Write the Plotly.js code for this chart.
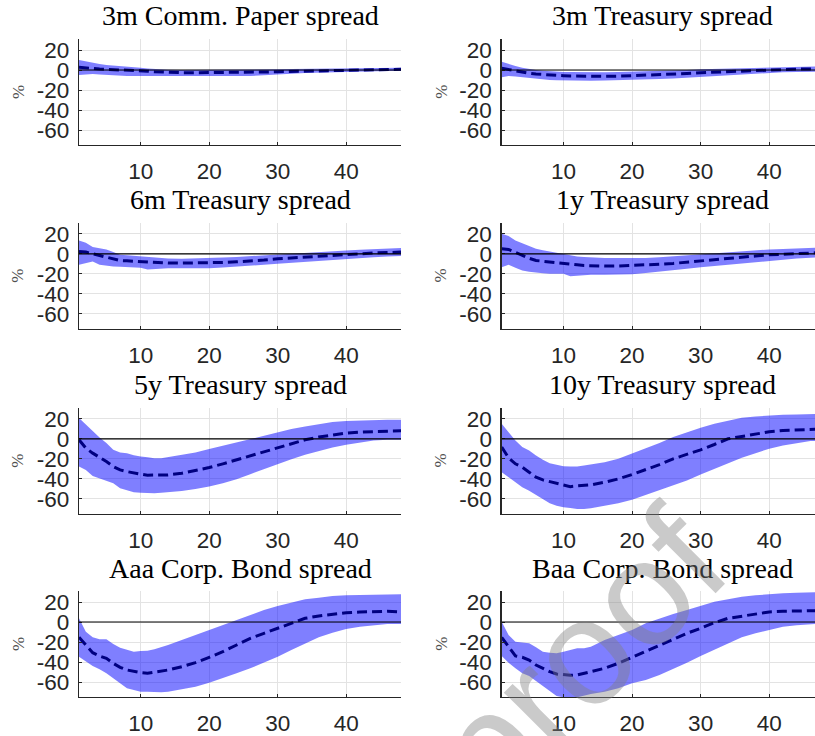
<!DOCTYPE html>
<html>
<head>
<meta charset="utf-8">
<script src="https://cdn.plot.ly/plotly-3.0.1.min.js"></script>
<style>html,body{margin:0;padding:0;background:#fff;}#chart{width:815px;height:736px;}</style>
</head>
<body>
<div id="chart"></div>
<script>
// ---- data ----
const horizon = [1,2,3,4,5,6,7,8,9,10,11,12,13,14,16,18,20,22,24,26,28,30,32,34,36,38,40,42,44,46,48];
const titles = ["3m Comm. Paper spread","3m Treasury spread","6m Treasury spread","1y Treasury spread",
                "5y Treasury spread","10y Treasury spread","Aaa Corp. Bond spread","Baa Corp. Bond spread"];
const yTickVals = [-60,-40,-20,0,20];
const yTickText = ["-60","-40","-20","0","20"];
const xTickVals = [10,20,30,40];
const xTickText = ["10","20","30","40"];

const medCP = [2.7,2,1.5,1,0.7,0.5,0.3,0,-0.3,-0.7,-1.2,-1.7,-2,-2.3,-2.7,-2.7,-2.7,-2.7,-2.5,-2.3,-2,-1.7,-1.4,-1.1,-0.8,-0.5,-0.3,0,0.3,0.5,0.7];
const upCP  = [10,8.5,7,6,5,4.5,4.2,4,3,2.3,1.6,1,0.6,0.3,0,0,0,0,0.2,0.4,0.5,0.7,0.9,1.1,1.3,1.5,1.7,1.9,2.1,2.2,2.3];
const loCP  = [-5,-4.5,-4,-4.5,-5,-5.5,-5.8,-6,-6,-6,-6.2,-6.4,-6.5,-6.6,-6.7,-6.7,-6.7,-6.5,-6.3,-6,-5.3,-4.3,-3.7,-3.1,-2.7,-2.2,-1.7,-1.5,-1.3,-1.1,-1];

const med3m = [1.7,0.3,-1,-2.2,-3.3,-4,-4.6,-5,-5.4,-5.7,-6,-6.2,-6.3,-6.3,-6.3,-6.2,-5.7,-5.3,-5,-4.4,-3.5,-2.7,-2.2,-1.6,-1,-0.4,0.3,0.6,0.9,1,1];
const up3m  = [8.3,6,4,2.3,1,0,-0.7,-1.3,-1.7,-2,-2.1,-2.2,-2.3,-2.3,-2.2,-2,-1.7,-1.3,-0.9,-0.5,0.1,0.7,1.1,1.5,1.9,2.3,2.7,3.1,3.5,3.7,3.7];
const lo3m  = [-7.3,-6,-6.5,-7.3,-8.2,-9,-9.5,-10,-10.3,-10.5,-10.7,-10.7,-10.7,-10.7,-10.6,-10.4,-10,-9.6,-9.1,-8.4,-7.6,-6.7,-5.9,-5.1,-4.4,-3.5,-2.7,-2.3,-2,-1.7,-1.5];

const med6m = [2.3,1.7,0,-1.7,-3.5,-5.2,-6.7,-7,-7.4,-7.7,-8.2,-8.6,-9,-9.2,-9.3,-9.3,-9,-8.6,-8,-7.3,-6.2,-5,-4.1,-3.2,-2.3,-1.3,-0.3,0.3,0.8,1.2,1.7];
const up6m  = [13.3,11,6.7,5.5,4.3,1.7,-1,-1.5,-2,-2.3,-3,-3.6,-4.3,-4.6,-5,-4.8,-4.3,-3.8,-3.1,-2.3,-1.2,0,0.7,1.4,2,2.7,3.3,4,4.6,5.2,5.7];
const lo6m  = [-11,-9,-7.7,-11,-12,-12.7,-13,-13.3,-13.7,-14,-15.7,-15,-14.6,-14.3,-14.5,-14.7,-14.3,-13.7,-13,-12,-11,-10,-9,-8.2,-7.4,-6.3,-5,-4.2,-3.5,-2.8,-2.3];

const med1y = [5,4.3,1.5,-1.7,-4.5,-6.7,-7.3,-8,-8.6,-9.3,-10.2,-11,-11.7,-12,-12.3,-12.1,-11.7,-11,-10.4,-9.6,-8.3,-6.7,-5.5,-4.3,-3.3,-2.2,-1,-0.3,0.4,1,1.3];
const up1y  = [20,17.7,13.3,10.5,8.3,5,3.6,2.3,1.2,0,-1.3,-2.7,-3.3,-3.8,-4.3,-4.3,-4.3,-4.2,-3.5,-2.5,-1.2,0,1,2,2.8,3.6,4.3,4.8,5.3,5.8,6.3];
const lo1y  = [-13.3,-11,-14,-16.7,-18,-19,-19.5,-20,-20,-20,-22.3,-21.8,-21.3,-21,-21,-21,-20.5,-19.2,-18,-16.7,-15,-13.3,-12,-10.8,-9.7,-8.2,-6.7,-5.7,-4.8,-4,-3.3];

const med5y = [-1,-9.3,-14.3,-18.3,-22.7,-27.7,-31,-32.7,-34.3,-35.3,-36.3,-36.3,-36.3,-36,-34.3,-31.7,-28.7,-25,-21,-16.7,-12.7,-8.3,-5,-1,1.7,4,5.7,6.7,7.3,8,8];
const up5y  = [20.7,14,7.3,1.3,-4.3,-11,-13.7,-14.3,-16.3,-17.7,-18.3,-19.3,-19.3,-18.3,-16,-13.7,-10.3,-7,-3.3,-0.3,3,6.3,9.7,12.3,14.7,16.7,17.7,18.3,19,19,19];
const lo5y  = [-27.7,-31,-37,-39.3,-42,-44.3,-49.3,-51.7,-53.3,-53.7,-54.3,-54.3,-53.7,-53.3,-52,-50,-47.7,-44.3,-40.3,-35.3,-30.3,-25,-20.3,-16,-12,-8.7,-6,-3.7,-1.7,-1,-1];

const med10y = [-8.3,-19,-25,-28.3,-33.3,-38.3,-41,-42.7,-44.3,-46,-47.7,-47,-46.3,-46,-43.3,-40,-35.7,-31,-25.7,-20,-15.7,-11,-5.7,0,2.3,5,7,8.3,9,9.7,9.7];
const up10y  = [15,6.7,-1.7,-8.3,-11.7,-16.7,-21,-24.3,-26,-27.3,-27.7,-27.7,-26.7,-25.7,-23.3,-20,-15,-10,-4.3,1.7,6.7,11,15,18.3,21,22.3,23.3,24,24.3,25,25];
const lo10y  = [-33.3,-38.3,-43.3,-48.3,-51.7,-55.7,-60,-64.3,-66.7,-68.3,-69,-70,-70,-69.3,-66.7,-64.3,-60.7,-56,-51.7,-46.7,-41.7,-35.7,-30,-24.3,-19,-14.3,-10,-6.7,-4.3,-2.3,-1.7];

const medAaa = [-15.3,-23,-30.7,-34,-36.3,-41.3,-45.3,-48,-49.7,-50.7,-51.3,-50.3,-49.7,-48,-44.7,-40.7,-35.3,-29.7,-23,-16.3,-11.3,-6.3,-0.7,3.7,6,8,9.3,10,10.7,10.7,10];
const upAaa  = [3.7,-9.7,-15.3,-17.3,-17.3,-22,-25.7,-28,-29.7,-29,-28.7,-27.3,-25.3,-23,-18,-13,-8,-3,2.7,7.7,12,16,19.3,22.7,24.3,26,26.7,27,27.7,28,27.7];
const loAaa  = [-34.7,-39.7,-44,-47.3,-51.3,-56.3,-61.3,-66.3,-68,-69.7,-69.7,-70.3,-70.3,-69.7,-67.3,-64.7,-60.7,-56.3,-51.3,-46.3,-40.7,-34.7,-28,-21.3,-15.3,-10.7,-7,-4.7,-3,-2,-2];

const medBaa = [-15.3,-24.7,-34,-35.3,-38,-43,-46.3,-49.7,-52,-53,-53.3,-53,-51.3,-49.7,-46.3,-41.3,-35.3,-29.7,-23,-17.3,-11.3,-6.3,-0.7,3.7,6,8,10,10.7,11.3,11.3,11.3];
const upBaa  = [0.3,-13,-19.7,-20.7,-21.3,-25.3,-29.7,-30.7,-31.3,-29.7,-28,-26.3,-26.3,-24.7,-18,-13,-8,-1.3,3.7,8,12,16,20.3,22.7,25.3,26.7,28,28.7,29.3,30,30];
const loBaa  = [-34,-40.7,-46.3,-51.3,-54,-59,-64.7,-69.7,-74,-75.3,-76,-75.3,-73.7,-72,-69.7,-66.3,-61.3,-58,-53,-47,-40.7,-34,-28,-21.3,-15.3,-11.3,-8,-4.7,-3.3,-2,-1.3];

const medians = [medCP, med3m, med6m, med1y, med5y, med10y, medAaa, medBaa];
const uppers  = [upCP, up3m, up6m, up1y, up5y, up10y, upAaa, upBaa];
const lowers  = [loCP, lo3m, lo6m, lo1y, lo5y, lo10y, loAaa, loBaa];

// ---- layout geometry (pixels in the 815x736 frame) ----
const W = 815, H = 736;
const colLeft = [79, 501.7];
const colRightPx = [401, 815];
const colRange = [[1,48],[1,46.67]];
const colCenter = [240, 662.7];
const rowTop = [39, 222.7, 407.7, 591];
const rowBot = [145, 329, 514, 697];

const tickFont = {family: "Liberation Sans, Arial, sans-serif", size: 22.5, color: "#262626"};
const serif = "Liberation Serif, Times New Roman, serif";

const traces = [];
const layout = {
  width: W, height: H,
  margin: {l:0, r:0, t:0, b:0},
  paper_bgcolor: "#ffffff", plot_bgcolor: "#ffffff",
  showlegend: false,
  annotations: [], shapes: []
};

for (let i = 0; i < 8; i++) {
  const row = Math.floor(i/2), col = i % 2;
  const sfx = i === 0 ? "" : String(i+1);
  const xa = "x" + sfx, ya = "y" + sfx;
  traces.push({x: horizon, y: lowers[i], xaxis: xa, yaxis: ya, type: "scatter", mode: "lines",
               line: {width: 0, color: "rgba(0,0,255,0)"}, hoverinfo: "skip"});
  traces.push({x: horizon, y: uppers[i], xaxis: xa, yaxis: ya, type: "scatter", mode: "lines",
               fill: "tonexty", fillcolor: "rgba(0,0,255,0.5)",
               line: {width: 0, color: "rgba(0,0,255,0)"}, hoverinfo: "skip"});
  traces.push({x: horizon, y: medians[i], xaxis: xa, yaxis: ya, type: "scatter", mode: "lines",
               line: {width: 3, color: "#000080", dash: "10px,5px"}});

  layout["xaxis" + sfx] = {
    domain: [colLeft[col]/W, colRightPx[col]/W],
    range: colRange[col], anchor: ya,
    tickmode: "array", tickvals: xTickVals, ticktext: xTickText,
    ticks: "inside", ticklen: 3, tickcolor: "#262626",
    showgrid: true, gridcolor: "#e3e3e3", gridwidth: 1,
    zeroline: false, showline: true, linecolor: "#262626", linewidth: 1.3,
    tickfont: tickFont, ticklabelstandoff: 6, fixedrange: true
  };
  layout["yaxis" + sfx] = {
    domain: [1 - rowBot[row]/H, 1 - rowTop[row]/H],
    range: [-75, 31], anchor: xa,
    tickmode: "array", tickvals: yTickVals, ticktext: yTickText,
    ticks: "inside", ticklen: 3, tickcolor: "#262626",
    showgrid: true, gridcolor: "#e3e3e3", gridwidth: 1,
    zeroline: false, showline: true, linecolor: "#262626", linewidth: 1.3,
    tickfont: tickFont, ticklabelstandoff: 4, fixedrange: true
  };
  layout.shapes.push({type: "line", xref: xa + " domain", yref: ya, x0: 0, x1: 1, y0: 0, y1: 0,
                      line: {color: "#000000", width: 1.2}, layer: "above"});
  layout.annotations.push({text: titles[i], xref: "paper", yref: "paper",
    x: colCenter[col]/W, y: 1 - (rowTop[row] - 23)/H, xanchor: "center", yanchor: "middle",
    showarrow: false, font: {family: serif, size: 28, color: "#000000"}});
  layout.annotations.push({text: "%", xref: "paper", yref: "paper",
    x: (colLeft[col] - 61)/W, y: 1 - ((rowTop[row] + rowBot[row])/2)/H, xanchor: "center", yanchor: "middle",
    textangle: -90, showarrow: false, font: {family: serif, size: 17, color: "#505050"}});
}

// watermark
layout.annotations.push({text: "proof", xref: "paper", yref: "paper",
  x: 578/W, y: 1 - 657/H, xanchor: "center", yanchor: "middle", textangle: -45,
  showarrow: false, font: {family: "Liberation Sans, Arial, sans-serif", size: 150, color: "rgba(128,128,128,0.42)"}});

Plotly.newPlot("chart", traces, layout, {staticPlot: true, displayModeBar: false});
</script>
</body>
</html>
